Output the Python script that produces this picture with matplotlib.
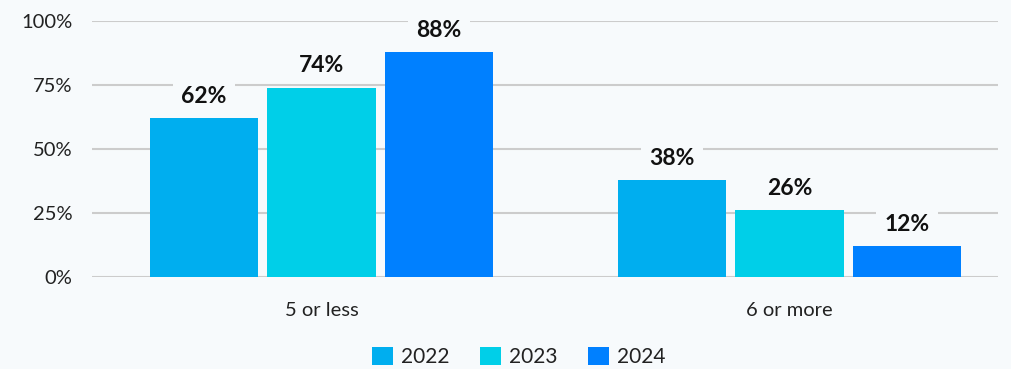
import matplotlib.pyplot as plt
import numpy as np

categories = ["5 or less", "6 or more"]
years = ["2022", "2023", "2024"]
values = {
    "2022": [62, 38],
    "2023": [74, 26],
    "2024": [88, 12],
}
colors = {"2022": "#00aeef", "2023": "#00cfe8", "2024": "#0080ff"}
yticks = [0, 25, 50, 75, 100]

bg = "#f7fafc"
plt.rcParams["font.family"] = ["Lato", "DejaVu Sans"]

fig = plt.figure(figsize=(10.12, 3.69), dpi=100, facecolor=bg)
ax = fig.add_axes([92 / 1012, 1 - 277 / 369, 906 / 1012, 256 / 369])
ax.set_facecolor(bg)

x = np.arange(len(categories))
width = 0.2308
step = 0.251
for i, yr in enumerate(years):
    pos = x + (i - 1) * step
    bars = ax.bar(pos, values[yr], width=width, color=colors[yr], label=yr, zorder=3)
    for b, v in zip(bars, values[yr]):
        ax.annotate(f"{v}%", (b.get_x() + b.get_width() / 2, v),
                    xytext=(0, 8), textcoords="offset points",
                    ha="center", va="bottom", fontsize=16.5, fontweight="bold",
                    color="#111111", zorder=4,
                    bbox=dict(boxstyle="square,pad=0.35", fc=bg, ec="none"))

ax.set_xlim(-0.4904, 1.4455)
ax.set_ylim(0, 100)
ax.set_yticks(yticks)
ax.set_yticklabels([f"{t}%" for t in yticks])
ax.set_xticks(x)
ax.set_xticklabels(categories)
ax.grid(axis="y", color="#cccccc", linewidth=1.5, zorder=0)
ax.tick_params(axis="both", length=0, labelsize=14.5, colors="#222222")
ax.tick_params(axis="y", pad=14)
ax.tick_params(axis="x", pad=18)
for s in ax.spines.values():
    s.set_visible(False)

leg = fig.legend(loc="center", bbox_to_anchor=(519 / 1012, 1 - 357 / 369), ncol=3,
                 frameon=False, fontsize=15, handlelength=1.0, handleheight=1.0,
                 handletextpad=0.4, columnspacing=1.45, borderpad=0)
for t in leg.get_texts():
    t.set_color("#222222")

fig.savefig("out.png", dpi=100, facecolor=bg)
